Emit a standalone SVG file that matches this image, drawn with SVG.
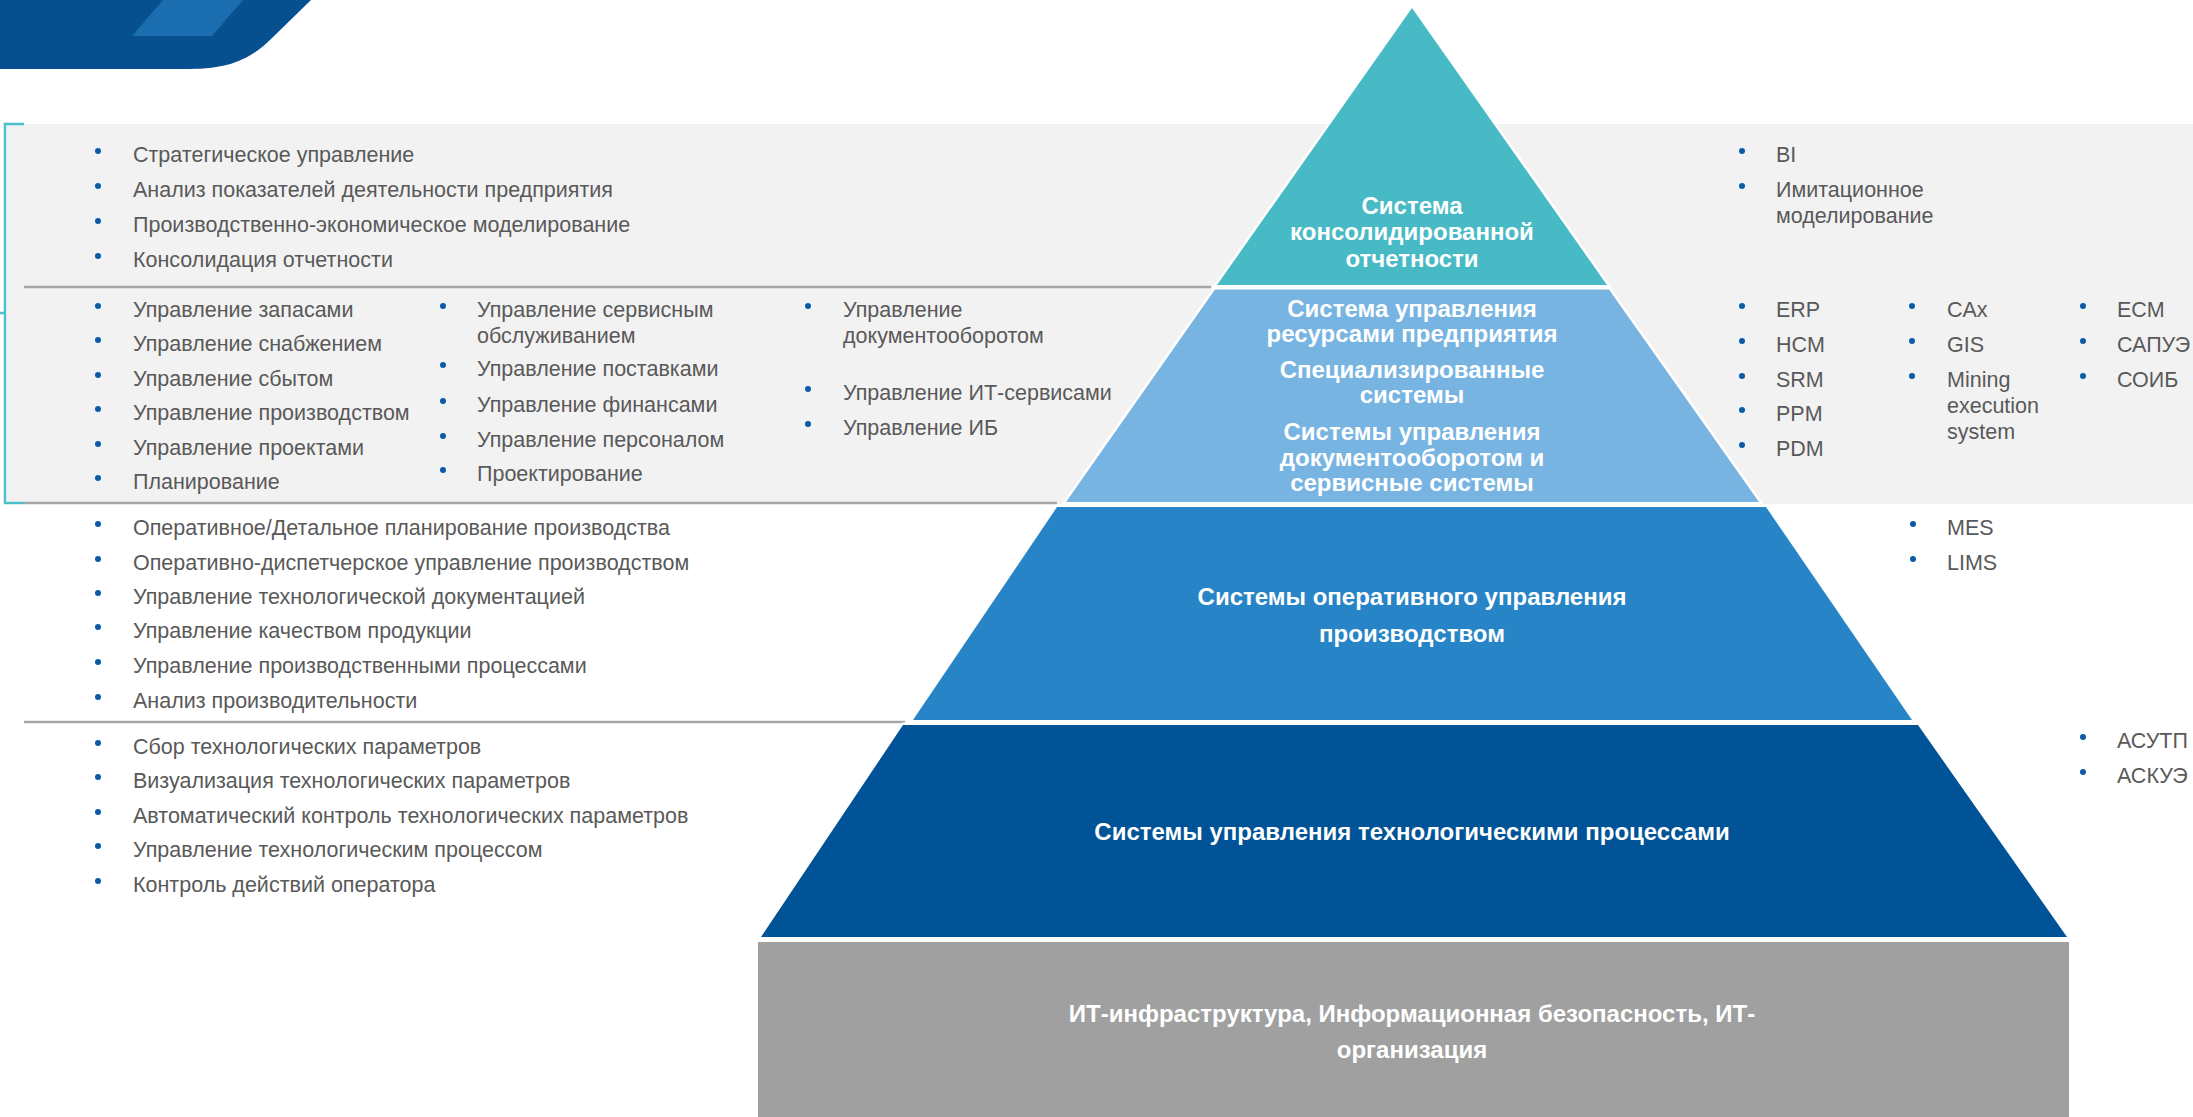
<svg xmlns="http://www.w3.org/2000/svg" width="2193" height="1117" viewBox="0 0 2193 1117">
<style>
.t{font-family:"Liberation Sans",Arial,sans-serif;font-size:21.5px;fill:#595959}
.h{font-family:"Liberation Sans",Arial,sans-serif;font-size:24px;font-weight:bold;fill:#fff;text-anchor:middle}
.b{fill:#0B5AA5}
.lay{stroke:#fff;stroke-width:5;paint-order:stroke;stroke-linejoin:miter}
.div{stroke:#A6A6A6;stroke-width:2.5;fill:none}
</style>
<rect width="2193" height="1117" fill="#fff"/>
<g id="logo">
<path d="M0,0 H311 L272,38 C250,60 228,69 190,69 H0 Z" fill="#06508F"/>
<path d="M163,0 H243 L212,36 H132 Z" fill="#1A6EB0"/>
</g>
<rect id="band" x="7" y="124" width="2186" height="380" fill="#F2F2F2"/>
<g id="dividers">
<path class="div" d="M24,287 H1211"/>
<path class="div" d="M24,503 H1057"/>
<path class="div" d="M24,722 H905"/>
<path d="M24,124 H5 V503 H24 M0,313 H5" fill="none" stroke="#4DBFCB" stroke-width="2.5"/>
</g>
<g id="layer-consolidated">
<polygon class="lay" points="1412,8 1607,285 1217,285" fill="#47BAC5"/>
<text class="h" x="1412" y="214">Система</text>
<text class="h" x="1412" y="240">консолидированной</text>
<text class="h" x="1412" y="267">отчетности</text>
</g>
<g id="layer-erp">
<polygon class="lay" points="1215,289.5 1609,289.5 1759,502 1066,502" fill="#77B4E2"/>
<text class="h" x="1412" y="317">Система управления</text>
<text class="h" x="1412" y="342">ресурсами предприятия</text>
<text class="h" x="1412" y="378">Специализированные</text>
<text class="h" x="1412" y="403">системы</text>
<text class="h" x="1412" y="440">Системы управления</text>
<text class="h" x="1412" y="466">документооборотом и</text>
<text class="h" x="1412" y="491">сервисные системы</text>
</g>
<g id="layer-mes">
<polygon class="lay" points="1057,507 1766,507 1912,720 913,720" fill="#2784C7"/>
<text class="h" x="1412" y="605">Системы оперативного управления</text>
<text class="h" x="1412" y="642">производством</text>
</g>
<g id="layer-scada">
<polygon class="lay" points="903,725 1918,725 2067,937 761,937" fill="#005396"/>
<text class="h" x="1412" y="840">Системы управления технологическими процессами</text>
</g>
<g id="layer-infra">
<rect x="758" y="942" width="1311" height="175" fill="#A0A0A0"/>
<text class="h" x="1412" y="1022">ИТ-инфраструктура, Информационная безопасность, ИТ-</text>
<text class="h" x="1412" y="1058">организация</text>
</g>
<g id="list-top-left">
<circle class="b" cx="98" cy="151" r="3"/><text class="t" x="133" y="162">Стратегическое управление</text>
<circle class="b" cx="98" cy="186" r="3"/><text class="t" x="133" y="197">Анализ показателей деятельности предприятия</text>
<circle class="b" cx="98" cy="221" r="3"/><text class="t" x="133" y="232">Производственно-экономическое моделирование</text>
<circle class="b" cx="98" cy="256" r="3"/><text class="t" x="133" y="267">Консолидация отчетности</text>
</g>
<g id="list-erp-left">
<circle class="b" cx="98" cy="306" r="3"/><text class="t" x="133" y="317">Управление запасами</text>
<circle class="b" cx="98" cy="340" r="3"/><text class="t" x="133" y="351">Управление снабжением</text>
<circle class="b" cx="98" cy="375" r="3"/><text class="t" x="133" y="386">Управление сбытом</text>
<circle class="b" cx="98" cy="409" r="3"/><text class="t" x="133" y="420">Управление производством</text>
<circle class="b" cx="98" cy="444" r="3"/><text class="t" x="133" y="455">Управление проектами</text>
<circle class="b" cx="98" cy="478" r="3"/><text class="t" x="133" y="489">Планирование</text>
<circle class="b" cx="443" cy="306" r="3"/><text class="t" x="477" y="317">Управление сервисным</text>
<text class="t" x="477" y="343">обслуживанием</text>
<circle class="b" cx="443" cy="365" r="3"/><text class="t" x="477" y="376">Управление поставками</text>
<circle class="b" cx="443" cy="401" r="3"/><text class="t" x="477" y="412">Управление финансами</text>
<circle class="b" cx="443" cy="436" r="3"/><text class="t" x="477" y="447">Управление персоналом</text>
<circle class="b" cx="443" cy="470" r="3"/><text class="t" x="477" y="481">Проектирование</text>
<circle class="b" cx="808" cy="306" r="3"/><text class="t" x="843" y="317">Управление</text>
<text class="t" x="843" y="343">документооборотом</text>
<circle class="b" cx="808" cy="389" r="3"/><text class="t" x="843" y="400">Управление ИТ-сервисами</text>
<circle class="b" cx="808" cy="424" r="3"/><text class="t" x="843" y="435">Управление ИБ</text>
</g>
<g id="list-mes-left">
<circle class="b" cx="98" cy="524" r="3"/><text class="t" x="133" y="535">Оперативное/Детальное планирование производства</text>
<circle class="b" cx="98" cy="559" r="3"/><text class="t" x="133" y="570">Оперативно-диспетчерское управление производством</text>
<circle class="b" cx="98" cy="593" r="3"/><text class="t" x="133" y="604">Управление технологической документацией</text>
<circle class="b" cx="98" cy="627" r="3"/><text class="t" x="133" y="638">Управление качеством продукции</text>
<circle class="b" cx="98" cy="662" r="3"/><text class="t" x="133" y="673">Управление производственными процессами</text>
<circle class="b" cx="98" cy="697" r="3"/><text class="t" x="133" y="708">Анализ производительности</text>
</g>
<g id="list-scada-left">
<circle class="b" cx="98" cy="743" r="3"/><text class="t" x="133" y="754">Сбор технологических параметров</text>
<circle class="b" cx="98" cy="777" r="3"/><text class="t" x="133" y="788">Визуализация технологических параметров</text>
<circle class="b" cx="98" cy="812" r="3"/><text class="t" x="133" y="823">Автоматический контроль технологических параметров</text>
<circle class="b" cx="98" cy="846" r="3"/><text class="t" x="133" y="857">Управление технологическим процессом</text>
<circle class="b" cx="98" cy="881" r="3"/><text class="t" x="133" y="892">Контроль действий оператора</text>
</g>
<g id="list-top-right">
<circle class="b" cx="1742" cy="151" r="3"/><text class="t" x="1776" y="162">BI</text>
<circle class="b" cx="1742" cy="186" r="3"/><text class="t" x="1776" y="197">Имитационное</text>
<text class="t" x="1776" y="223">моделирование</text>
</g>
<g id="list-erp-right">
<circle class="b" cx="1742" cy="306" r="3"/><text class="t" x="1776" y="317">ERP</text>
<circle class="b" cx="1742" cy="341" r="3"/><text class="t" x="1776" y="352">HCM</text>
<circle class="b" cx="1742" cy="376" r="3"/><text class="t" x="1776" y="387">SRM</text>
<circle class="b" cx="1742" cy="410" r="3"/><text class="t" x="1776" y="421">PPM</text>
<circle class="b" cx="1742" cy="445" r="3"/><text class="t" x="1776" y="456">PDM</text>
<circle class="b" cx="1912" cy="306" r="3"/><text class="t" x="1947" y="317">CAx</text>
<circle class="b" cx="1912" cy="341" r="3"/><text class="t" x="1947" y="352">GIS</text>
<circle class="b" cx="1912" cy="376" r="3"/><text class="t" x="1947" y="387">Mining</text>
<text class="t" x="1947" y="413">execution</text>
<text class="t" x="1947" y="439">system</text>
<circle class="b" cx="2083" cy="306" r="3"/><text class="t" x="2117" y="317">ECM</text>
<circle class="b" cx="2083" cy="341" r="3"/><text class="t" x="2117" y="352">САПУЭ</text>
<circle class="b" cx="2083" cy="376" r="3"/><text class="t" x="2117" y="387">СОИБ</text>
</g>
<g id="list-mes-right">
<circle class="b" cx="1913" cy="524" r="3"/><text class="t" x="1947" y="535">MES</text>
<circle class="b" cx="1913" cy="559" r="3"/><text class="t" x="1947" y="570">LIMS</text>
</g>
<g id="list-scada-right">
<circle class="b" cx="2083" cy="737" r="3"/><text class="t" x="2117" y="748">АСУТП</text>
<circle class="b" cx="2083" cy="772" r="3"/><text class="t" x="2117" y="783">АСКУЭ</text>
</g>
</svg>
